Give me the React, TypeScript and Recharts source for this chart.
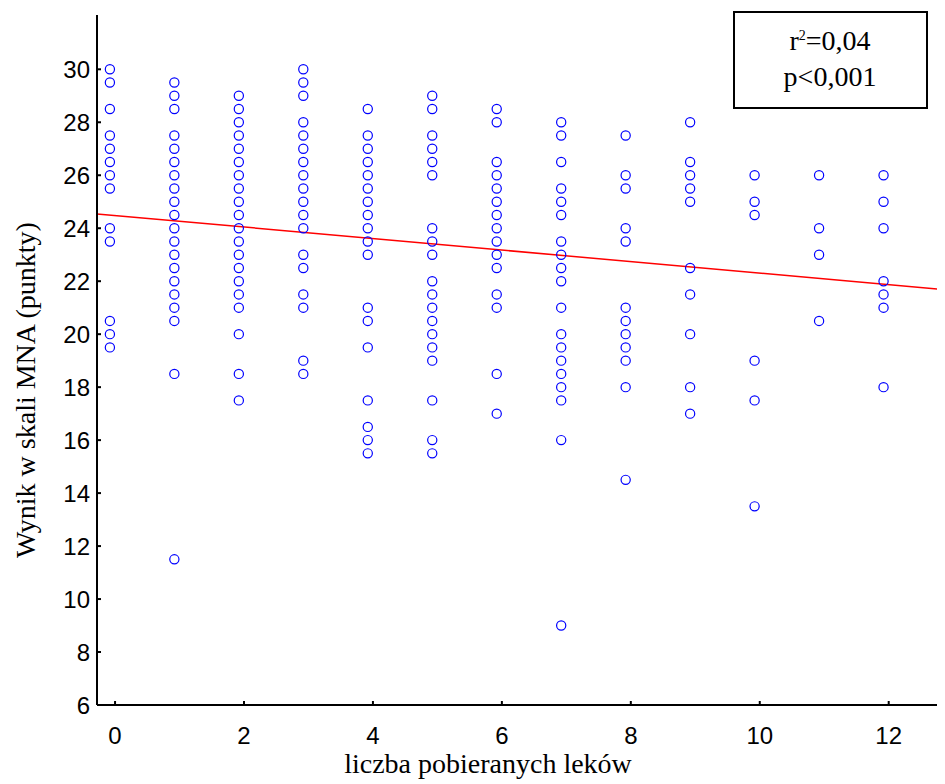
import {
  ScatterChart,
  Scatter,
  XAxis,
  YAxis,
  ReferenceLine,
  Label,
  Customized,
} from 'recharts';

// number of medications taken (x) and MNA scores observed for each count
const MEDS = [0, 1, 2, 3, 4, 5, 6, 7, 8, 9, 10, 11, 12, 13];
const MNA_SCORES: number[][] = [
  [30, 29.5, 28.5, 27.5, 27, 26.5, 26, 25.5, 24, 23.5, 20.5, 20, 19.5],
  [29.5, 29, 28.5, 27.5, 27, 26.5, 26, 25.5, 25, 24.5, 24, 23.5, 23, 22.5, 22, 21.5, 21, 20.5, 18.5, 11.5],
  [29, 28.5, 28, 27.5, 27, 26.5, 26, 25.5, 25, 24.5, 24, 23.5, 23, 22.5, 22, 21.5, 21, 20, 18.5, 17.5],
  [30, 29.5, 29, 28, 27.5, 27, 26.5, 26, 25.5, 25, 24.5, 24, 23, 22.5, 21.5, 21, 19, 18.5],
  [28.5, 27.5, 27, 26.5, 26, 25.5, 25, 24.5, 24, 23.5, 23, 21, 20.5, 19.5, 17.5, 16.5, 16, 15.5],
  [29, 28.5, 27.5, 27, 26.5, 26, 24, 23.5, 23, 22, 21.5, 21, 20.5, 20, 19.5, 19, 17.5, 16, 15.5],
  [28.5, 28, 26.5, 26, 25.5, 25, 24.5, 24, 23.5, 23, 22.5, 21.5, 21, 18.5, 17],
  [28, 27.5, 26.5, 25.5, 25, 24.5, 23.5, 23, 22.5, 22, 21, 20, 19.5, 19, 18.5, 18, 17.5, 16, 9],
  [27.5, 26, 25.5, 24, 23.5, 21, 20.5, 20, 19.5, 19, 18, 14.5],
  [28, 26.5, 26, 25.5, 25, 22.5, 21.5, 20, 18, 17],
  [26, 25, 24.5, 19, 17.5, 13.5],
  [26, 24, 23, 20.5],
  [26, 25, 24, 22, 21.5, 21, 18],
  [26.5, 23.5],
];

const X_TICKS = [0, 2, 4, 6, 8, 10, 12];
const Y_TICKS = [6, 8, 10, 12, 14, 16, 18, 20, 22, 24, 26, 28, 30];
// the original figure is cut at the right edge, so the plot runs past the window
const X_DOMAIN: [number, number] = [-0.28, 13.23];
const Y_DOMAIN: [number, number] = [6, 32.05];

// markers sit slightly left of the integer ticks in the original plot
const X_SHIFT = -0.08;

const REG_INTERCEPT = 24.48;
const REG_SLOPE = -0.2175;

const points = MEDS.flatMap((m, i) => MNA_SCORES[i].map((s) => ({ x: m + X_SHIFT, y: s })));

const regSegment = [
  { x: X_DOMAIN[0], y: REG_INTERCEPT + REG_SLOPE * X_DOMAIN[0] },
  { x: X_DOMAIN[1], y: REG_INTERCEPT + REG_SLOPE * X_DOMAIN[1] },
];

const SANS = '"Liberation Sans", Arial, sans-serif';
const SERIF = '"Liberation Serif", "Times New Roman", serif';

const YTick = ({ x, y, payload }: any) => (
  <g>
    <line x1={x + 7} x2={x + 11} y1={y} y2={y} stroke="#000" strokeWidth={2} />
    <text x={x} y={y} dy="0.36em" textAnchor="end" fontFamily={SANS} fontSize={24} fill="#000">
      {payload.value}
    </text>
  </g>
);

const XTick = ({ x, y, payload }: any) => (
  <g>
    <line x1={x} x2={x} y1={y} y2={y - 4} stroke="#000" strokeWidth={2} />
    <text x={x} y={y + 39} textAnchor="middle" fontFamily={SANS} fontSize={24} fill="#000">
      {payload.value}
    </text>
  </g>
);

const Ring = (props: any) => (
  <circle cx={props.cx} cy={props.cy} r={4.6} fill="none" stroke="#0000ff" strokeWidth={1.2} />
);

const StatsBox = () => (
  <g>
    <rect x={726} y={4} width={193} height={96} fill="#fff" stroke="#000" strokeWidth={2} />
    <text x={822} y={41.5} textAnchor="middle" fontFamily={SERIF} fontSize={28} fill="#000">
      r<tspan dy={-10} fontSize={14}>2</tspan>
      <tspan dy={10}>=0,04</tspan>
    </text>
    <text x={822} y={78} textAnchor="middle" fontFamily={SERIF} fontSize={28} fill="#000">
      p&lt;0,001
    </text>
  </g>
);

const App = () => {
  return (
    <div style={{ width: 937, height: 776, overflow: 'hidden', position: 'relative' }}>
      <ScatterChart width={960} height={776} margin={{ top: 7, right: 0, bottom: 0, left: 0 }}>
        <XAxis
          type="number"
          dataKey="x"
          domain={X_DOMAIN}
          allowDataOverflow
          ticks={X_TICKS}
          interval={0}
          height={79}
          tickSize={0}
          tickMargin={0}
          tickLine={false}
          tick={<XTick />}
          axisLine={{ stroke: '#000', strokeWidth: 2 }}
        >
          <Label
            content={() => (
              <text x={480} y={765} textAnchor="middle" fontFamily={SERIF} fontSize={28} fill="#000">
                liczba pobieranych leków
              </text>
            )}
          />
        </XAxis>
        <YAxis
          type="number"
          dataKey="y"
          domain={Y_DOMAIN}
          allowDataOverflow
          ticks={Y_TICKS}
          interval={0}
          width={89}
          tickSize={0}
          tickMargin={7}
          tickLine={false}
          tick={<YTick />}
          axisLine={{ stroke: '#000', strokeWidth: 2 }}
        >
          <Label
            content={() => (
              <text
                transform="translate(27 382) rotate(-90)"
                textAnchor="middle"
                fontFamily={SERIF}
                fontSize={28}
                fill="#000"
              >
                Wynik w skali MNA (punkty)
              </text>
            )}
          />
        </YAxis>
        <Scatter data={points} shape={<Ring />} isAnimationActive={false} />
        <ReferenceLine segment={regSegment} stroke="#ff0000" strokeWidth={1.5} ifOverflow="hidden" />
        <Customized component={StatsBox} />
      </ScatterChart>
    </div>
  );
};

export default App;
